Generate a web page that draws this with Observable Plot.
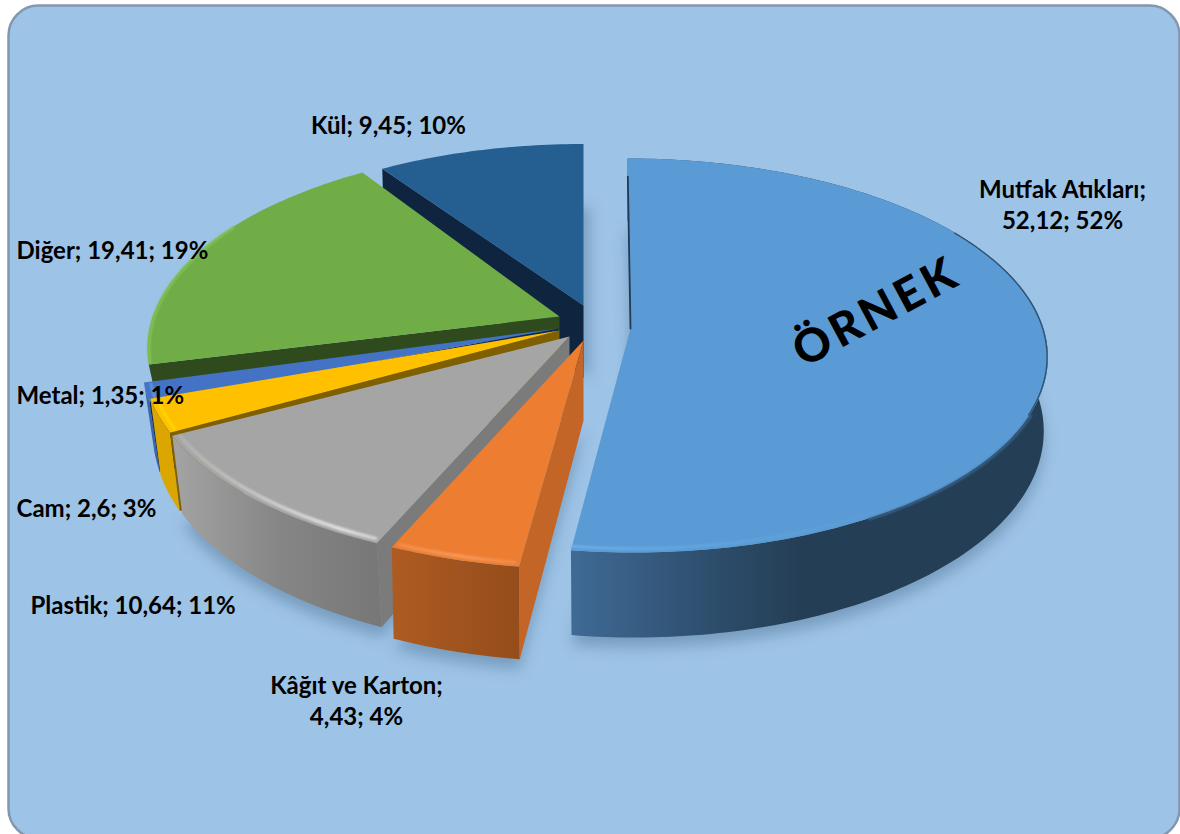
<!DOCTYPE html>
<html lang="tr"><head><meta charset="utf-8">
<style>
html,body{margin:0;padding:0;background:#fff;overflow:hidden}
#c svg{display:block}
</style>
<script src="https://cdn.jsdelivr.net/npm/d3@7"></script>
<script src="https://cdn.jsdelivr.net/npm/@observablehq/plot@0.6"></script>
</head><body><div id="c"></div>
<script>
// DATA
const categories = ["Mutfak Atıkları","Kâğıt ve Karton","Plastik","Cam","Metal","Diğer","Kül"];
const values = [52.12,4.43,10.64,2.6,1.35,19.41,9.45];
const percents = [52,4,11,3,1,19,10];
const watermark = "ÖRNEK";

// STYLE / LAYOUT
const topColors = ["#5B9BD5","#ED7D31","#A5A5A5","#FFC000","#4472C4","#70AD47","#255E91"];
const wallFills = ["url(#wBlue)","url(#wOrange)","url(#wGrey)","#DBA600","#3A66B0","#5C8F3A","#1E4D78"];
const faceColors = [null,"#C26526","#7B7B7B","#7F6000","#0F2A55","#2F4A1C","#0F253F"];
const rimFills = ["url(#rBlue)","url(#rOrange)","url(#rGrey)","url(#rYellow)","#6C9BE8","#82C45A",null];
const geom = [
 {cx:630,cy:328,sx:1,    sy:1,    shear:.0176,depth:72.5,bx:.99},
 {cx:583,cy:340,sx:1.015,sy:1.02, shear:0,    depth:80,  bx:.99},
 {cx:569,cy:336,sx:1.02, sy:1.02, shear:0,    depth:72.5,bx:.975},
 {cx:559,cy:330,sx:1,    sy:1.05, shear:0,    depth:72.5,bx:.975},
 {cx:558,cy:328,sx:1,    sy:1.125,shear:0,    depth:66,  bx:.975},
 {cx:559,cy:316,sx:.985, sy:1,    shear:-.05, depth:16,  bx:.99},
 {cx:583,cy:305,sx:.97,  sy:.95,  shear:0,    depth:72.5,bx:.99}
];
const labelPos = [
 {x:1062,y:203,anchor:"middle"},{x:356,y:699,anchor:"middle"},{x:30,y:604,anchor:"start"},
 {x:16,y:507,anchor:"start"},{x:16,y:394,anchor:"start"},{x:16,y:249,anchor:"start"},{x:388,y:124,anchor:"middle"}
];
const R=413,Q=193.3,K=.137;
function pt(g,deg,r=1,bottom=false){
  const a=deg*Math.PI/180,sn=Math.sin(a),c=Math.cos(a),w=1+K*r*c;
  let x=R*r*sn/w*g.sx, y=-Q*r*c/w*g.sy;
  x+=g.shear*y;
  if(bottom){x*=g.bx;y=y*1.056+g.depth;}
  return {x:g.cx+x,y:g.cy+y};
}
function arc(g,t0,t1,r=1,bottom=false){
  const n=Math.max(2,Math.ceil(Math.abs(t1-t0))),o=[];
  for(let i=0;i<=n;i++)o.push(pt(g,t0+(t1-t0)*i/n,r,bottom));
  return o;
}
const apex=(g,bottom=false)=>bottom?{x:g.cx,y:g.cy+g.depth}:{x:g.cx,y:g.cy};
const poly=(pts,fill,extra={})=>Plot.line(pts,{x:"x",y:"y",fill,stroke:"none",curve:"linear",...extra});
const rim=(pts,stroke,w,blur=1)=>Plot.line(pts,{x:"x",y:"y",stroke,strokeWidth:w,curve:"linear",imageFilter:`blur(${blur}px)`});

const total=d3.sum(values);
let acc=0;
const angles=values.map(v=>{const a=acc/total*360;acc+=v;return [a,acc/total*360];});

function grad(id,x1,x2,stops){
  const g=d3.create("svg:linearGradient").attr("id",id).attr("gradientUnits","userSpaceOnUse")
    .attr("x1",x1).attr("x2",x2).attr("y1",0).attr("y2",0);
  stops.forEach(([o,c])=>g.append("stop").attr("offset",o).attr("stop-color",c));
  return g.node();
}
const defsMark=()=>{
  const d=d3.create("svg:defs");
  [grad("wBlue",573,800,[[0,"#3F6A95"],[.55,"#2F5070"],[1,"#243E55"]]),
   grad("wOrange",392,520,[[0,"#AE5B22"],[1,"#944D1B"]]),
   grad("wGrey",175,380,[[0,"#A3A3A3"],[.5,"#868686"],[1,"#777777"]]),
   grad("rBlue",573,900,[[0,"#6FB2EC"],[.4,"#62A6E0"],[1,"#5B9BD5"]]),
   grad("rOrange",392,520,[[0,"#F28B47"],[.5,"#F79A5A"],[1,"#F08A45"]]),
   grad("rGrey",175,380,[[0,"#B0B0B0"],[.35,"#C4C4C4"],[.8,"#E2E2E2"],[1,"#D0D0D0"]]),
   grad("rYellow",150,170,[[0,"#FFD000"],[1,"#FFDD00"]])
  ].forEach(n=>d.node().appendChild(n));
  return d.node();
};

const marks=[defsMark,
  Plot.frame({fill:"#9DC3E6",stroke:"#8497B0",strokeWidth:2.5,rx:30,insetLeft:8,insetTop:5,insetRight:1,insetBottom:-4})
];
// soft shadows below the floating slices
[0,1,2,6].forEach(i=>{
  const g=geom[i],[a,b]=angles[i];
  const dy=i===6?0:10;
  const pts=[apex(g,true),...arc(g,a,b,1,true)].map(p=>({x:p.x+(i===6?6:0),y:p.y+dy}));
  marks.push(poly(pts,"#46688A",{fillOpacity:.42,imageFilter:"blur(7px)"}));
});
// back to front: Kül, Diğer, Metal, Cam, Plastik, Kâğıt, Mutfak
[6,5,4,3,2,1,0].forEach(i=>{
  const g=geom[i],[a,b]=angles[i];
  // outer wall
  if(i!==6&&i!==5) marks.push(poly([...arc(g,a,b),...arc(g,b,a,1,true)],wallFills[i]));
  // radial face on the slice's leading edge
  if(faceColors[i]){
    marks.push(poly([apex(g),pt(g,a),pt(g,a,1,true),apex(g,true)],faceColors[i]));
  }
  // top face
  marks.push(poly([apex(g),...arc(g,a,b)],topColors[i]));
  // bevel
  if(rimFills[i]){
    const m=i===0?[120,b]:(i===5?[a,300]:[a,b]);
    const r=i===5?.996:.985;
    marks.push(rim(arc(g,m[0]+(i===0?0:.6),m[1]-(i===0?0:.6),r),rimFills[i],i===2?3.5:(i===1?3.5:2.5),.8));
  }
});
// soft dark edge where the large slice turns over
marks.push(rim(arc(geom[0],58,115,.998),"#2F5272",1.3,.7));
marks.push(rim(arc(geom[0],115,150,1.004),"#3C6C98",2,1));
// thin inner face of the large slice
marks.push(Plot.line([pt(geom[0],0,.88),apex(geom[0])],{x:"x",y:"y",stroke:"#1F3B55",strokeWidth:1.8,curve:"linear"}));

const labels=categories.map((c,i)=>{
  const v=String(values[i]).replace(".",",");
  const text=i<2?`${c};\n${v}; ${percents[i]}%`:`${c}; ${v}; ${percents[i]}%`;
  return {text,...labelPos[i]};
});
["start","middle"].forEach(anchor=>{
  marks.push(Plot.text(labels.filter(d=>d.anchor===anchor),{x:"x",y:"y",text:"text",textAnchor:anchor,
    fontFamily:"Lato",fontWeight:700,fontSize:24,fill:"#000",lineHeight:1.3}));
});
marks.push(Plot.text([watermark],{x:[876],y:[312],text:d=>d,rotate:-28,fontFamily:"Lato",fontWeight:900,fontSize:46,fill:"#000",
  render:(index,scales,values,dims,ctx,next)=>{
    const g=next(index,scales,values,dims,ctx);
    d3.select(g).selectAll("text").style("letter-spacing","4px");
    return g;
  }}));

document.getElementById("c").append(Plot.plot({
  width:1180,height:834,margin:0,
  x:{domain:[0,1180],range:[0,1180],axis:null},
  y:{domain:[0,834],range:[0,834],axis:null},
  style:{background:"#fff",overflow:"hidden"},
  marks
}));
</script></body></html>
